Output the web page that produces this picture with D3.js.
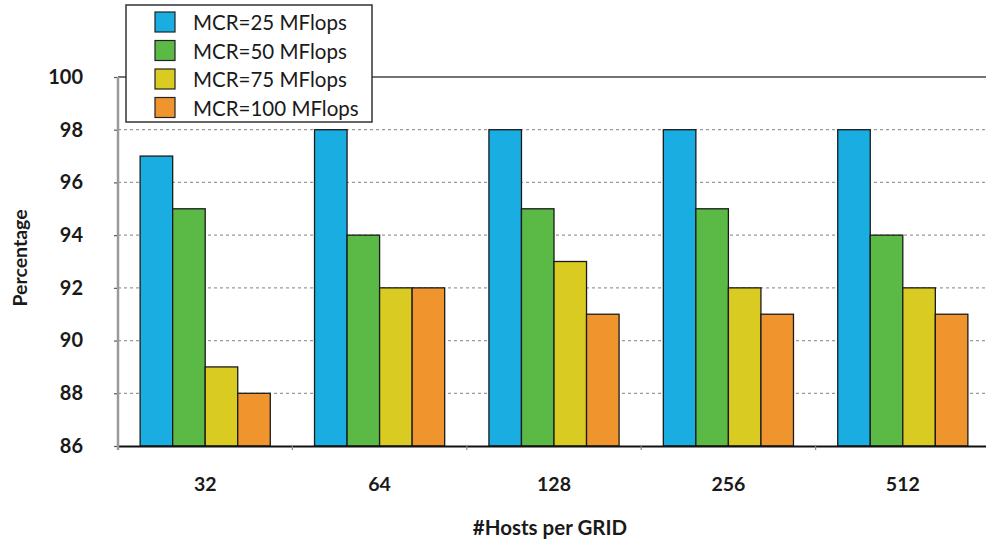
<!DOCTYPE html>
<html>
<head>
<meta charset="utf-8">
<script src="https://cdn.jsdelivr.net/npm/d3@7"></script>
<style>
  html, body { margin: 0; padding: 0; background: #fff; }
  svg { display: block; }
  text { font-family: Lato, "Open Sans", "DejaVu Sans", sans-serif; fill: #1a1a1a; }
</style>
</head>
<body>
<svg id="chart" width="986" height="542"></svg>
<script>
// Grid sizes (hosts per grid) on the x axis
const categories = ["32", "64", "128", "256", "512"];
// Series: machine compute rating
const seriesNames = ["MCR=25 MFlops", "MCR=50 MFlops", "MCR=75 MFlops", "MCR=100 MFlops"];
const mcr25  = [97, 98, 98, 98, 98];
const mcr50  = [95, 94, 95, 95, 94];
const mcr75  = [89, 92, 93, 92, 92];
const mcr100 = [88, 92, 91, 91, 91];
const yTicks = [86, 88, 90, 92, 94, 96, 98, 100];
const colors = ["#19ade1", "#5bb946", "#d9cb22", "#f0952e"];

const seriesValues = [mcr25, mcr50, mcr75, mcr100];

const svg = d3.select("#chart");
const margin = { left: 118, top: 77, right: -4, bottom: 96 };
const W = 986, H = 542;
const x0 = margin.left, x1 = W - margin.right;
const yTop = margin.top, yBot = H - margin.bottom;

const x = d3.scaleBand().domain(categories).range([x0, x1]).paddingInner(0).paddingOuter(0);
const xs = d3.scaleBand().domain(d3.range(seriesNames.length))
  .range([0, x.bandwidth()]).paddingOuter(0.68).paddingInner(0);
const y = d3.scaleLinear().domain([86, 100]).range([yBot, yTop]);

// dashed gridlines
svg.append("g").selectAll("line")
  .data(yTicks.filter(t => t > 86 && t < 100))
  .join("line")
  .attr("x1", x0).attr("x2", W)
  .attr("y1", d => y(d)).attr("y2", d => y(d))
  .attr("stroke", "#9a9a9a").attr("stroke-width", 1.2)
  .attr("stroke-dasharray", "3,3");

// top border at 100
svg.append("line")
  .attr("x1", x0).attr("x2", W)
  .attr("y1", y(100)).attr("y2", y(100))
  .attr("stroke", "#444").attr("stroke-width", 1.6);

// bars
const groups = svg.append("g").selectAll("g")
  .data(categories)
  .join("g")
  .attr("transform", d => `translate(${x(d)},0)`);

groups.selectAll("rect")
  .data((c, i) => seriesValues.map((vals, s) => ({ s, v: vals[i] })))
  .join("rect")
  .attr("x", d => xs(d.s))
  .attr("width", xs.bandwidth())
  .attr("y", d => y(d.v))
  .attr("height", d => y(86) - y(d.v))
  .attr("fill", d => colors[d.s])
  .attr("stroke", "#1a1a1a")
  .attr("stroke-width", 1.3);

// x axis
const xAxis = d3.axisBottom(x).tickSize(0).tickPadding(31);
const gx = svg.append("g").attr("transform", `translate(0,${yBot})`).call(xAxis);
gx.select(".domain").attr("stroke", "#111").attr("stroke-width", 2);
gx.selectAll("text").attr("font-size", 19.5).attr("font-weight", "bold")
  .style("font-family", "Lato, 'Open Sans', sans-serif").attr("fill", "#1a1a1a");
// small separators between groups
svg.append("g").selectAll("line")
  .data(categories.slice(1))
  .join("line")
  .attr("x1", d => x(d)).attr("x2", d => x(d))
  .attr("y1", yBot).attr("y2", yBot + 4)
  .attr("stroke", "#888").attr("stroke-width", 1.2);

// y axis
const yAxis = d3.axisLeft(y).tickValues(yTicks).tickSize(4).tickPadding(31);
const gy = svg.append("g").attr("transform", `translate(${x0},0)`).call(yAxis);
gy.select(".domain").remove();
gy.selectAll(".tick line").attr("stroke", "#555").attr("stroke-width", 1.2);
gy.selectAll("text").attr("font-size", 20).attr("font-weight", "bold")
  .style("font-family", "Lato, 'Open Sans', sans-serif").attr("fill", "#1a1a1a");
svg.append("line")
  .attr("x1", x0).attr("x2", x0)
  .attr("y1", yTop).attr("y2", yBot + 4)
  .attr("stroke", "#9a9a9a").attr("stroke-width", 2.5);

// axis titles
svg.append("text")
  .attr("x", 550).attr("y", 535)
  .attr("text-anchor", "middle")
  .attr("font-size", 20.5).attr("font-weight", "bold")
  .text("#Hosts per GRID");
svg.append("text")
  .attr("transform", `translate(27,258) rotate(-90)`)
  .attr("text-anchor", "middle")
  .attr("font-size", 19.5).attr("font-weight", "bold")
  .text("Percentage");

// legend
const lg = svg.append("g").attr("transform", "translate(126,5)");
lg.append("rect").attr("width", 246).attr("height", 117)
  .attr("fill", "#fff").attr("stroke", "#333").attr("stroke-width", 1.5);
const items = lg.selectAll("g.item").data(seriesNames).join("g")
  .attr("class", "item")
  .attr("transform", (d, i) => `translate(0,${7 + i * 28.5})`);
items.append("rect")
  .attr("x", 29).attr("y", 0).attr("width", 20).attr("height", 20)
  .attr("fill", (d, i) => colors[i]).attr("stroke", "#222").attr("stroke-width", 1.2);
items.append("text")
  .attr("x", 67).attr("y", 18)
  .attr("font-size", 20.5)
  .attr("fill", "#333")
  .text(d => d);
</script>
</body>
</html>
